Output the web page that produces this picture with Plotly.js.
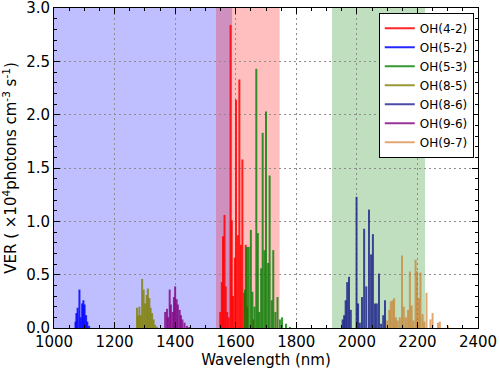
<!DOCTYPE html>
<html>
<head>
<meta charset="utf-8">
<script src="https://cdn.plot.ly/plotly-3.0.1.min.js"></script>
<style>html,body{margin:0;padding:0;background:#fff;}#chart{width:500px;height:370px;}</style>
</head>
<body>
<div id="chart"></div>
<script>
// Band names
const bandNames = ["OH(4-2)", "OH(5-2)", "OH(5-3)", "OH(8-5)", "OH(8-6)", "OH(9-6)", "OH(9-7)"];
const bandColors = ["rgba(255,0,0,0.85)", "rgba(0,0,255,0.85)", "rgba(0,128,0,0.8)", "rgba(128,128,0,0.8)",
                    "rgba(0,0,128,0.7)", "rgba(128,0,128,0.8)", "rgba(205,110,20,0.6)"];

// Line positions (nm) and VER (x10^4 photons cm^-3 s^-1)
const wl_4_2  = [1549, 1554, 1558, 1563, 1567, 1572, 1577, 1583, 1587, 1591, 1597, 1601, 1607, 1612, 1617, 1622, 1628, 1633, 1638, 1658];
const ver_4_2 = [0.15, 0.43, 0.86, 1.06, 0.39, 0.15, 0.10, 2.84, 1.01, 0.30, 0.66, 2.14, 0.87, 2.33, 0.78, 1.58, 0.33, 0.78, 0.20, 0.08];

const wl_5_2  = [1071, 1074, 1078, 1084, 1088, 1093, 1097, 1101, 1106, 1110, 1116];
const ver_5_2 = [0.06, 0.14, 0.19, 0.36, 0.10, 0.23, 0.26, 0.22, 0.12, 0.06, 0.02];

const wl_5_3  = [1630, 1637, 1643, 1650, 1655, 1662, 1668, 1673, 1678, 1684, 1689, 1695, 1700, 1707, 1712, 1719, 1724, 1731, 1738, 1746, 1753, 1766, 1779];
const ver_5_3 = [0.36, 0.76, 0.76, 0.92, 0.34, 0.20, 2.43, 0.89, 0.15, 0.56, 1.83, 0.73, 2.03, 0.61, 1.43, 0.26, 0.73, 0.15, 0.29, 0.08, 0.10, 0.04, 0.01];

const wl_8_5  = [1274, 1278, 1282, 1286, 1291, 1296, 1301, 1306, 1310, 1315, 1319, 1324, 1329, 1334, 1340];
const ver_8_5 = [0.19, 0.12, 0.20, 0.12, 0.46, 0.36, 0.23, 0.31, 0.37, 0.28, 0.19, 0.14, 0.08, 0.03, 0.01];

const wl_8_6  = [1953, 1958, 1963, 1968, 1974, 1980, 1999, 2004, 2010, 2017, 2024, 2031, 2040, 2047, 2053, 2060, 2066, 2073, 2080, 2087, 2093];
const ver_8_6 = [0.08, 0.12, 0.26, 0.43, 0.48, 0.17, 1.23, 0.23, 0.05, 0.29, 0.93, 0.39, 1.11, 0.69, 0.88, 0.23, 0.23, 0.51, 0.04, 0.12, 0.26];

const wl_9_6  = [1367, 1373, 1377, 1382, 1386, 1392, 1396, 1400, 1405, 1409, 1415, 1419, 1424, 1431, 1439, 1447];
const ver_9_6 = [0.15, 0.18, 0.10, 0.36, 0.22, 0.15, 0.29, 0.39, 0.27, 0.22, 0.17, 0.12, 0.08, 0.05, 0.02, 0.01];

const wl_9_7  = [2100, 2107, 2112, 2118, 2123, 2129, 2135, 2142, 2149, 2155, 2162, 2169, 2175, 2181, 2187, 2194, 2199, 2205, 2210, 2217, 2223, 2230, 2243, 2250, 2268, 2274, 2301];
const ver_9_7 = [0.07, 0.17, 0.25, 0.26, 0.28, 0.10, 0.07, 0.10, 0.68, 0.20, 0.10, 0.17, 0.53, 0.21, 0.07, 0.64, 0.53, 0.28, 0.52, 0.13, 0.06, 0.33, 0.08, 0.14, 0.05, 0.06, 0.02];

// Tick labels
const yTicks = [0, 0.5, 1, 1.5, 2, 2.5, 3];
const yTickText = ["0.0", "0.5", "1.0", "1.5", "2.0", "2.5", "3.0"];

// Shaded spectral windows (nm)
const spanBlue  = [1000, 1588];
const spanRed   = [1535, 1745];
const spanGreen = [1918, 2225];

const bandWl  = [wl_4_2, wl_5_2, wl_5_3, wl_8_5, wl_8_6, wl_9_6, wl_9_7];
const bandVer = [ver_4_2, ver_5_2, ver_5_3, ver_8_5, ver_8_6, ver_9_6, ver_9_7];

const traces = bandNames.map((name, i) => {
  const xs = [], ys = [];
  bandWl[i].forEach((w, j) => { xs.push(w, w, null); ys.push(0, bandVer[i][j], null); });
  return {
    type: 'scatter', mode: 'lines', name: name, x: xs, y: ys,
    line: {color: bandColors[i], width: 2}, hoverinfo: 'skip'
  };
});

const font = {family: 'DejaVu Sans, sans-serif', color: '#000'};
const axisCommon = {
  showline: true, linecolor: '#000', linewidth: 1, mirror: 'allticks',
  ticks: 'inside', ticklen: 6, tickcolor: '#000', tickwidth: 1,
  showgrid: true, gridcolor: '#8c8c8c', griddash: '2px,3px', gridwidth: 1,
  zeroline: false, ticklabeloverflow: 'allow',
  tickfont: {family: font.family, size: 15, color: '#000'}
};

const layout = {
  width: 500, height: 370,
  margin: {l: 54, r: 22, t: 8, b: 42},
  paper_bgcolor: '#fff', plot_bgcolor: '#fff',
  font: font,
  showlegend: true,
  legend: {
    x: 0.99, xanchor: 'right', y: 0.985, yanchor: 'top',
    bgcolor: '#fff', bordercolor: '#000', borderwidth: 1,
    font: {family: font.family, size: 12, color: '#000'},
    itemwidth: 30, tracegroupgap: 0
  },
  xaxis: Object.assign({}, axisCommon, {
    range: [1000, 2400], dtick: 200, tick0: 1000,
    minor: {dtick: 50, ticks: 'inside', ticklen: 3, tickcolor: '#000', showgrid: false},
    title: {text: 'Wavelength (nm)', font: {family: font.family, size: 15, color: '#000'}, standoff: 4}
  }),
  yaxis: Object.assign({}, axisCommon, {
    range: [0, 3.0001], tickmode: 'array', tickvals: yTicks, ticktext: yTickText,
    minor: {tickmode: 'linear', tick0: 0, dtick: 0.1, ticks: 'inside', ticklen: 3, tickcolor: '#000', showgrid: false},
    title: {text: 'VER ( \u00d710<sup>4</sup>photons cm<sup>-3</sup> s<sup>-1</sup>)', font: {family: font.family, size: 15, color: '#000'}, standoff: 6}
  }),
  shapes: [
    {type: 'rect', xref: 'x', yref: 'paper', x0: spanBlue[0], x1: spanBlue[1], y0: 0, y1: 1, fillcolor: 'rgba(0,0,255,0.25)', line: {width: 0}, layer: 'below'},
    {type: 'rect', xref: 'x', yref: 'paper', x0: spanRed[0], x1: spanRed[1], y0: 0, y1: 1, fillcolor: 'rgba(255,0,0,0.25)', line: {width: 0}, layer: 'below'},
    {type: 'rect', xref: 'x', yref: 'paper', x0: spanGreen[0], x1: spanGreen[1], y0: 0, y1: 1, fillcolor: 'rgba(0,128,0,0.25)', line: {width: 0}, layer: 'below'}
  ]
};

Plotly.newPlot('chart', traces, layout, {staticPlot: true, displayModeBar: false});
</script>
</body>
</html>
